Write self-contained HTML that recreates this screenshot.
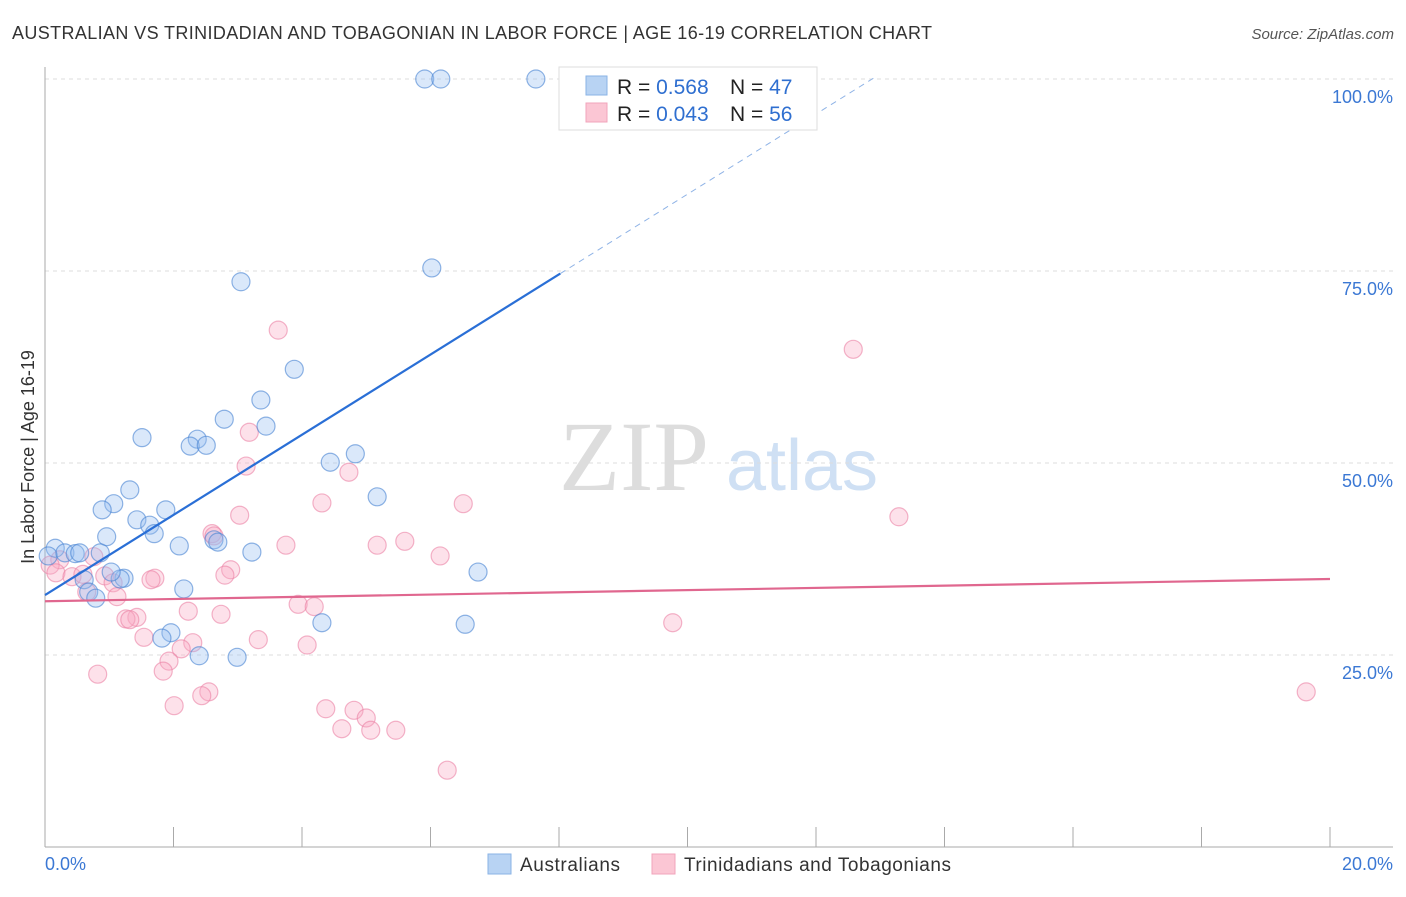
<!DOCTYPE html>
<html><head><meta charset="utf-8"><style>
body{margin:0;background:#fff;font-family:"Liberation Sans",sans-serif}
</style></head><body>
<svg id="c" width="1406" height="892" viewBox="0 0 1406 892" font-family="Liberation Sans, sans-serif">
<text x="12" y="39" font-size="18" fill="#333" textLength="920">AUSTRALIAN VS TRINIDADIAN AND TOBAGONIAN IN LABOR FORCE | AGE 16-19 CORRELATION CHART</text>
<text x="1394" y="39" font-size="15" fill="#555" font-style="italic" text-anchor="end">Source: ZipAtlas.com</text>
<text transform="translate(34,457) rotate(-90)" font-size="18" fill="#333" text-anchor="middle">In Labor Force | Age 16-19</text>
<g><text x="634" y="490" font-size="100" fill="#ddd" style="font-family:'Liberation Serif',serif" text-anchor="middle">ZIP</text><text x="802" y="490" font-size="72" fill="#cfe0f4" text-anchor="middle">atlas</text></g>
<g id="grid"></g><g id="axes"></g><g id="marks"></g>
<g>
<rect x="559" y="67" width="258" height="63" fill="#fff" stroke="#ddd"/>
<rect x="586" y="76" width="21" height="19" fill="#b8d3f3" stroke="#8ab3e6"/>
<rect x="586" y="103" width="21" height="19" fill="#fbc6d4" stroke="#f2a4bb"/>
<text x="617" y="94" font-size="21" fill="#222">R = <tspan fill="#2f6fd0">0.568</tspan></text>
<text x="730" y="94" font-size="21" fill="#222">N = <tspan fill="#2f6fd0">47</tspan></text>
<text x="617" y="121" font-size="21" fill="#222">R = <tspan fill="#2f6fd0">0.043</tspan></text>
<text x="730" y="121" font-size="21" fill="#222">N = <tspan fill="#2f6fd0">56</tspan></text>
</g>
<g>
<rect x="488" y="854" width="23" height="20" fill="#b8d3f3" stroke="#8ab3e6"/>
<text x="520" y="871" font-size="19" fill="#333" textLength="100">Australians</text>
<rect x="652" y="854" width="23" height="20" fill="#fbc6d4" stroke="#f2a4bb"/>
<text x="684" y="871" font-size="19" fill="#333" textLength="267">Trinidadians and Tobagonians</text>
</g>
</svg>
<script>
const blueX=[5.91,6.16,7.64,6.02,3.05,3.88,3.36,2.79,3.44,1.51,2.37,2.26,2.51,4.44,4.83,5.17,1.32,1.07,0.89,1.88,1.43,1.63,1.70,0.96,2.09,2.63,2.69,3.22,0.16,0.05,0.31,0.47,0.54,0.86,0.61,1.23,1.17,1.03,0.68,0.79,2.16,6.74,1.96,1.82,4.31,6.54,2.40,2.99];
const blueY=[100,100,100,75.4,73.6,62.2,58.2,55.7,54.8,53.3,53.1,52.2,52.3,50.1,51.2,45.6,46.5,44.7,43.9,43.9,42.6,41.9,40.8,40.4,39.2,40.0,39.7,38.4,38.9,37.9,38.3,38.2,38.3,38.3,34.8,35.0,34.9,35.8,33.2,32.4,33.6,35.8,27.9,27.2,29.2,29.0,24.9,24.7];
const pinkX=[3.63,12.58,3.18,3.13,4.73,4.31,6.51,13.29,3.03,2.60,2.63,3.75,5.17,5.60,6.15,0.76,0.23,0.08,0.17,0.42,0.93,0.59,1.71,1.65,2.89,2.80,1.06,1.12,0.65,3.94,4.19,2.23,1.43,1.26,1.32,2.74,9.77,1.54,3.32,4.08,2.30,2.12,1.93,1.84,0.82,2.55,2.44,2.01,4.37,4.81,5.00,4.62,5.07,5.46,6.26,19.63];
const pinkY=[67.3,64.8,54.0,49.6,48.8,44.8,44.7,43.0,43.2,40.8,40.5,39.3,39.3,39.8,37.9,37.8,37.4,36.7,35.7,35.2,35.3,35.5,35.0,34.8,36.1,35.4,34.4,32.6,33.2,31.6,31.3,30.7,29.9,29.7,29.6,30.3,29.2,27.3,27.0,26.3,26.6,25.8,24.2,22.9,22.5,20.2,19.7,18.4,18.0,17.8,16.8,15.4,15.2,15.2,10.0,20.2];
const yTicks=[25,50,75,100];
const yTickLabels=["25.0%","50.0%","75.0%","100.0%"];
const blueTrend=[32.8,5.22];
const pinkTrend=[32.0,0.145];
const X=v=>45+v*64.25, Y=v=>847-v*7.68;
const NS="http://www.w3.org/2000/svg";
function mk(t,a,p){const e=document.createElementNS(NS,t);for(const k in a)e.setAttribute(k,a[k]);p.appendChild(e);return e;}
const grid=document.getElementById('grid'),axes=document.getElementById('axes'),marks=document.getElementById('marks');
yTicks.forEach((t,i)=>{
 const g=mk('line',{x1:45,x2:1393,y1:Y(t),y2:Y(t),stroke:'#ddd','stroke-dasharray':'4,4'},grid);
 
 
 const l=mk('text',{x:1393,y:Y(t)+24,'font-size':18,fill:'#3b78d4','text-anchor':'end'},axes);
 l.textContent=yTickLabels[i];
 
 
});
mk('line',{x1:45,x2:45,y1:67,y2:847,stroke:'#aaa'},axes);
mk('line',{x1:45,x2:1393,y1:847,y2:847,stroke:'#aaa'},axes);
for(let i=1;i<=10;i++){const tk=mk('line',{x1:X(i*2),x2:X(i*2),y1:827,y2:847,stroke:'#aaa'},axes);
 
 }
const xl0=mk('text',{x:45,y:870,'font-size':18,fill:'#3b78d4'},axes);xl0.textContent='0.0%';


const xl1=mk('text',{x:1393,y:870,'font-size':18,fill:'#3b78d4','text-anchor':'end'},axes);xl1.textContent='20.0%';


pinkX.forEach((x,i)=>{const c=mk('circle',{cx:X(x),cy:Y(pinkY[i]),r:9,fill:'rgba(248,170,195,0.35)',stroke:'rgba(235,130,165,0.6)','stroke-width':1.2},marks);
 
 });
blueX.forEach((x,i)=>{const c=mk('circle',{cx:X(x),cy:Y(blueY[i]),r:9,fill:'rgba(150,190,240,0.35)',stroke:'rgba(70,130,210,0.6)','stroke-width':1.2},marks);
 
 });
const bx1=8.02,bx2=(100-blueTrend[0])/blueTrend[1]+0.05;
const b1=mk('line',{x1:X(0),y1:Y(blueTrend[0]),x2:X(bx1),y2:Y(blueTrend[0]+blueTrend[1]*bx1),stroke:'#2a6fd6','stroke-width':2.2},marks);


const b2=mk('line',{x1:X(bx1),y1:Y(blueTrend[0]+blueTrend[1]*bx1),x2:X(bx2),y2:Y(blueTrend[0]+blueTrend[1]*bx2),stroke:'#8fb3e6','stroke-width':1,'stroke-dasharray':'6,5'},marks);


const p1=mk('line',{x1:X(0),y1:Y(pinkTrend[0]),x2:X(20),y2:Y(pinkTrend[0]+pinkTrend[1]*20),stroke:'#e0678f','stroke-width':2.2},marks);


</script>
</body></html>
